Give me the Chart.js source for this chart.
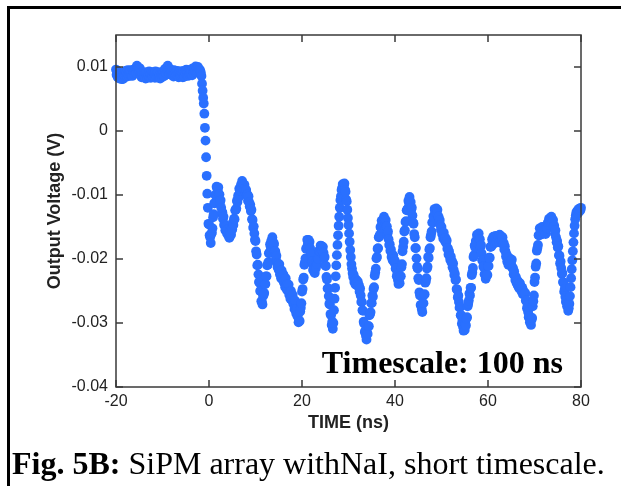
<!DOCTYPE html>
<html>
<head>
<meta charset="utf-8">
<script src="https://cdn.jsdelivr.net/npm/chart.js@4.4.1/dist/chart.umd.min.js"></script>
<style>
  html, body { margin: 0; padding: 0; background: #fff; }
  #wrap { width: 621px; height: 486px; }
</style>
</head>
<body>
<div id="wrap"><canvas id="sipmChart" width="621" height="486"></canvas></div>
<script>
// ============================================================================
// SiPM ARRAY + NaI OUTPUT PULSE, SHORT TIMESCALE
// ============================================================================

// scope sampling grid (ns)
const SAMPLE_START_NS = -20;
const SAMPLE_STEP_NS = 0.125;

// output voltage in mV, one row per ns (8 samples each)
const outputMilliVolts = [
  9.6, 8.8, 9.2, 8.4, 9.3, 8.6, 8.2, 8.8,             // -20
  8.2, 8.9, 8.1, 8.6, 8.1, 9.1, 8.8, 8.6,             // -19
  9.4, 8.7, 9.2, 8.5, 9.5, 8.9, 8.6, 9.3,             // -18
  8.8, 9.5, 8.7, 9.2, 8.6, 9.5, 9.2, 8.9,             // -17
  9.7, 9.1, 9.7, 9.1, 10.2, 9.7, 9.3, 9.9,            // -16
  9.3, 9.8, 8.8, 9.1, 8.4, 9.2, 8.8, 8.4,             // -15
  9.1, 8.4, 8.9, 8.2, 9.2, 8.6, 8.3, 9.0,             // -14
  8.6, 9.3, 8.4, 8.9, 8.3, 9.2, 8.8, 8.5,             // -13
  9.2, 8.5, 9.0, 8.3, 9.3, 8.7, 8.4, 9.1,             // -12
  8.5, 9.2, 8.3, 8.8, 8.2, 9.1, 8.7, 8.4,             // -11
  9.2, 8.6, 9.2, 8.6, 9.7, 9.2, 9.0, 9.8,             // -10
  9.5, 10.2, 9.2, 9.6, 8.9, 9.7, 9.2, 8.8,            // -9
  9.4, 8.7, 9.2, 8.5, 9.5, 8.9, 8.6, 9.3,             // -8
  8.7, 9.4, 8.5, 9.0, 8.4, 9.3, 8.9, 8.6,             // -7
  9.3, 8.6, 9.1, 8.4, 9.4, 8.8, 8.5, 9.2,             // -6
  8.9, 9.6, 8.7, 9.2, 8.6, 9.5, 9.1, 8.8,             // -5
  9.5, 8.8, 9.4, 8.7, 9.8, 9.2, 9.0, 9.7,             // -4
  9.3, 10.1, 9.2, 9.8, 9.2, 10.0, 9.5, 9.2,           // -3
  9.6, 9.4, 9.1, 8.6, 7.4, 6.3, 5.2, 4.3,             // -2
  2.7, 0.5, -1.5, -4.1, -7.0, -9.8, -12.0, -14.5,     // -1
  -14.6, -16.3, -16.6, -17.5, -16.1, -15.9, -15.2, -13.5, // 0
  -13.0, -11.3, -11.3, -10.0, -10.0, -8.7, -8.9, -9.3,    // 1
  -8.8, -9.9, -9.9, -11.2, -10.8, -12.0, -12.9, -12.7,    // 2
  -13.7, -13.4, -14.7, -14.6, -15.5, -14.9, -15.5, -16.0, // 3
  -15.4, -16.3, -15.9, -16.7, -15.6, -16.1, -16.2, -15.2, // 4
  -15.4, -14.3, -14.7, -13.7, -13.8, -12.4, -12.3, -12.1, // 5
  -10.9, -11.1, -10.1, -10.4, -9.0, -9.3, -9.3, -8.4,     // 6
  -8.7, -7.8, -8.7, -8.3, -9.1, -8.4, -9.0, -9.6,         // 7
  -9.2, -10.1, -9.9, -10.9, -10.2, -11.1, -11.8, -11.5,   // 8
  -12.5, -12.3, -13.8, -13.9, -15.1, -14.9, -16.0, -17.0, // 9
  -17.2, -18.8, -19.3, -21.0, -20.9, -22.4, -23.6, -23.7, // 10
  -25.0, -25.0, -26.6, -26.7, -27.1, -25.8, -25.6, -25.3, // 11
  -23.9, -23.9, -22.7, -22.7, -21.0, -20.9, -20.5, -19.1, // 12
  -19.0, -17.7, -18.1, -17.2, -17.6, -16.6, -17.3, -17.9, // 13
  -17.6, -18.8, -18.8, -20.0, -19.5, -20.6, -21.3, -21.0, // 14
  -21.7, -20.8, -22.4, -21.8, -23.0, -21.8, -22.6, -23.3, // 15
  -22.4, -23.7, -23.1, -24.4, -23.0, -24.2, -24.8, -23.9, // 16
  -24.9, -24.0, -25.6, -25.0, -26.2, -25.0, -25.8, -26.5, // 17
  -25.6, -27.0, -26.4, -27.8, -26.5, -27.8, -28.5, -27.8, // 18
  -28.9, -28.7, -29.9, -29.7, -29.7, -28.2, -27.6, -26.9, // 19
  -25.1, -24.7, -23.2, -22.9, -20.9, -20.5, -19.9, -18.4, // 20
  -18.3, -17.0, -17.7, -17.0, -17.9, -17.3, -18.3, -19.2, // 21
  -19.1, -20.4, -20.4, -21.7, -21.0, -22.0, -22.2, -21.3, // 22
  -21.4, -20.4, -20.8, -19.8, -20.0, -18.7, -18.8, -18.8, // 23
  -17.9, -18.5, -18.0, -18.8, -18.1, -19.0, -19.8, -19.7, // 24
  -21.0, -21.1, -22.8, -23.2, -24.6, -24.6, -25.8, -27.0, // 25
  -27.1, -28.6, -28.8, -30.3, -29.8, -30.9, -30.0, -28.0, // 26
  -26.2, -24.5, -22.7, -21.0, -19.4, -17.8, -16.3, -14.8, // 27
  -13.4, -12.0, -10.8, -10.2, -9.2, -8.9, -8.3, -8.4,     // 28
  -8.5, -8.2, -9.2, -9.5, -10.7, -11.0, -12.3, -13.6,     // 29
  -14.7, -16.0, -17.3, -18.6, -19.7, -20.8, -21.5, -22.2, // 30
  -22.8, -22.5, -23.6, -23.3, -24.0, -23.2, -23.7, -24.1, // 31
  -23.5, -24.3, -24.1, -25.1, -24.6, -25.7, -26.7, -26.7, // 32
  -28.0, -28.1, -29.8, -30.1, -31.4, -31.2, -32.0, -32.6, // 33
  -31.5, -31.7, -30.5, -30.5, -28.8, -28.6, -28.3, -26.9, // 34
  -26.9, -25.7, -25.9, -24.7, -24.4, -22.6, -22.1, -21.5, // 35
  -19.9, -19.7, -18.4, -18.3, -16.6, -16.5, -16.2, -15.0, // 36
  -15.1, -14.0, -14.6, -13.9, -14.4, -13.4, -13.9, -14.3, // 37
  -13.9, -14.9, -14.9, -16.1, -15.7, -16.9, -17.8, -17.7, // 38
  -18.7, -18.5, -19.7, -19.5, -20.2, -19.4, -20.0, -20.6, // 39
  -20.3, -21.5, -21.5, -22.7, -22.2, -23.3, -23.9, -23.6, // 40
  -23.8, -22.7, -22.7, -21.3, -20.8, -18.8, -18.1, -17.3, // 41
  -15.7, -15.5, -14.2, -14.1, -12.4, -12.3, -12.1, -10.9, // 42
  -11.2, -10.3, -11.4, -11.1, -12.3, -12.0, -13.2, -14.3, // 43
  -14.5, -16.1, -16.6, -18.3, -18.3, -19.9, -21.2, -21.5, // 44
  -23.0, -23.3, -25.2, -25.7, -27.2, -27.2, -27.8, -28.3, // 45
  -26.9, -26.9, -25.6, -25.5, -23.7, -23.5, -23.0, -21.5, // 46
  -21.2, -19.7, -19.8, -18.5, -18.3, -16.6, -16.2, -15.7, // 47
  -14.3, -14.3, -13.3, -13.5, -12.2, -12.6, -12.8, -12.1, // 48
  -12.8, -12.3, -13.5, -13.4, -14.4, -13.9, -14.7, -15.4, // 49
  -15.0, -16.1, -15.8, -16.8, -15.9, -16.7, -17.2, -16.7, // 50
  -17.5, -17.1, -18.4, -18.3, -19.3, -18.8, -19.5, -20.1, // 51
  -19.6, -20.5, -20.3, -21.3, -20.7, -21.7, -22.5, -22.3, // 52
  -23.3, -23.2, -24.7, -24.8, -26.0, -25.7, -26.7, -27.6, // 53
  -27.5, -28.8, -28.8, -30.1, -29.5, -30.6, -31.2, -30.8, // 54
  -31.1, -30.1, -30.4, -29.3, -29.1, -27.4, -27.0, -26.5, // 55
  -25.4, -25.7, -24.5, -24.5, -22.5, -22.1, -21.4, -19.7, // 56
  -19.4, -17.9, -18.2, -17.2, -17.4, -16.2, -16.4, -16.6, // 57
  -16.0, -16.9, -16.9, -18.1, -17.8, -19.1, -20.2, -20.2, // 58
  -21.2, -21.1, -22.4, -22.3, -23.1, -22.4, -22.5, -22.5, // 59
  -21.1, -21.1, -19.8, -19.8, -18.1, -18.1, -18.0, -16.9, // 60
  -17.3, -16.5, -17.5, -17.2, -17.5, -16.4, -16.9, -17.4, // 61
  -16.4, -16.9, -16.5, -17.4, -16.2, -16.6, -17.0, -16.5, // 62
  -17.2, -16.6, -17.7, -17.5, -18.5, -18.0, -18.8, -19.6, // 63
  -19.3, -20.4, -20.0, -20.9, -19.8, -20.3, -20.9, -20.5, // 64
  -20.9, -20.1, -21.4, -21.4, -22.4, -21.9, -22.6, -23.3, // 65
  -22.8, -23.7, -23.3, -24.1, -23.5, -24.4, -24.6, -23.8, // 66
  -24.6, -24.3, -25.1, -24.5, -25.5, -25.0, -25.3, -25.5, // 67
  -25.3, -26.5, -26.5, -27.7, -27.2, -28.3, -29.1, -28.9, // 68
  -29.9, -29.7, -30.3, -29.5, -29.2, -27.4, -26.6, -25.7, // 69
  -23.6, -22.9, -21.2, -20.7, -18.7, -18.3, -17.8, -16.3, // 70
  -16.3, -15.2, -16.2, -15.8, -16.1, -15.0, -15.5, -16.0, // 71
  -15.1, -15.6, -15.2, -16.1, -14.8, -15.2, -15.2, -14.3, // 72
  -14.6, -13.7, -14.5, -13.9, -14.4, -13.4, -13.9, -14.3, // 73
  -13.9, -14.9, -14.8, -16.0, -15.5, -16.6, -17.4, -17.2, // 74
  -18.2, -18.0, -19.4, -19.5, -20.7, -20.4, -21.4, -22.3, // 75
  -22.2, -23.6, -23.7, -25.1, -24.7, -25.9, -26.7, -26.5, // 76
  -27.4, -27.0, -28.1, -27.7, -27.0, -25.8, -24.4, -23.0, // 77
  -21.6, -20.2, -18.8, -17.4, -16.0, -14.8, -13.8, -13.2, // 78
  -12.7, -13.0, -12.4, -12.8, -12.2, -12.6, -12.1, -12.4, // 79
  -12.0                                                    // 80
];

const timeTicksNs = [-20, 0, 20, 40, 60, 80];
const voltageTicks = [-0.04, -0.03, -0.02, -0.01, 0, 0.01];
const voltageTickLabels = ['-0.04', '-0.03', '-0.02', '-0.01', '0', '0.01'];

const annotationText = 'Timescale: 100 ns';
const captionBold = 'Fig. 5B:';
const captionRest = ' SiPM array withNaI, short timescale.';

const traceColor = '#2a70ff';
const axisColor = '#3a3a3a';
const labelColor = '#222';
const sansFont = 'Arial, "Liberation Sans", sans-serif';
const serifFont = '"Times New Roman", "Liberation Serif", serif';

// mV -> V, paired with sample times
const tracePoints = outputMilliVolts.map((mv, i) => ({
  x: SAMPLE_START_NS + i * SAMPLE_STEP_NS,
  y: mv / 1000
}));

/**
 * Frame, MATLAB-style boxed axes with inward ticks, annotation and caption
 */
const figureDecor = {
  id: 'figureDecor',
  beforeDraw(chart) {
    const ctx = chart.ctx;
    ctx.save();
    ctx.fillStyle = '#fff';
    ctx.fillRect(0, 0, chart.width, chart.height);
    // outer text-box frame (left + top edges visible)
    ctx.fillStyle = '#000';
    ctx.fillRect(7, 6, 3, chart.height - 6);
    ctx.fillRect(7, 6, chart.width - 7, 3);
    ctx.restore();
  },
  afterDatasetsDraw(chart) {
    const { ctx, chartArea: a, scales: { x, y } } = chart;
    const tickLen = 7;
    ctx.save();
    ctx.strokeStyle = axisColor;
    ctx.lineWidth = 1.5;
    ctx.strokeRect(a.left, a.top, a.right - a.left, a.bottom - a.top);

    ctx.beginPath();
    timeTicksNs.forEach(t => {
      const px = x.getPixelForValue(t);
      ctx.moveTo(px, a.bottom);
      ctx.lineTo(px, a.bottom - tickLen);
      ctx.moveTo(px, a.top);
      ctx.lineTo(px, a.top + tickLen);
    });
    voltageTicks.forEach(v => {
      const py = y.getPixelForValue(v);
      ctx.moveTo(a.left, py);
      ctx.lineTo(a.left + tickLen, py);
      ctx.moveTo(a.right, py);
      ctx.lineTo(a.right - tickLen, py);
    });
    ctx.stroke();

    // annotation inside the axes
    ctx.fillStyle = '#000';
    ctx.textBaseline = 'alphabetic';
    ctx.textAlign = 'right';
    ctx.font = 'bold 32px ' + serifFont;
    ctx.fillText(annotationText, a.right - 18, a.bottom - 14);

    // figure caption
    ctx.textAlign = 'left';
    ctx.font = 'bold 32px ' + serifFont;
    ctx.fillText(captionBold, 12, 474);
    const boldWidth = ctx.measureText(captionBold).width;
    ctx.font = '32px ' + serifFont;
    ctx.fillText(captionRest, 12 + boldWidth, 474);
    ctx.restore();
  }
};

const ctx = document.getElementById('sipmChart').getContext('2d');

new Chart(ctx, {
  type: 'scatter',
  data: {
    datasets: [{
      label: 'Output Voltage',
      data: tracePoints,
      pointRadius: 4.9,
      pointHoverRadius: 4.9,
      pointBorderWidth: 0,
      backgroundColor: traceColor,
      borderColor: traceColor,
      showLine: false,
      clip: false
    }]
  },
  options: {
    responsive: false,
    devicePixelRatio: 1,
    animation: false,
    events: [],
    layout: {
      padding: { left: 0, right: 40, top: 35, bottom: 0 }
    },
    plugins: {
      legend: { display: false },
      tooltip: { enabled: false }
    },
    scales: {
      x: {
        type: 'linear',
        min: -20,
        max: 80,
        afterBuildTicks: scale => {
          scale.ticks = timeTicksNs.map(v => ({ value: v }));
        },
        afterFit: scale => { scale.height = 99; },
        grid: { display: false, drawTicks: false },
        border: { display: false },
        ticks: {
          padding: 5,
          maxRotation: 0,
          autoSkip: false,
          color: labelColor,
          font: { family: sansFont, size: 16 }
        },
        title: {
          display: true,
          text: 'TIME (ns)',
          color: labelColor,
          font: { family: sansFont, size: 18, weight: 'bold' },
          padding: { top: 0, bottom: 52 }
        }
      },
      y: {
        type: 'linear',
        min: -0.04,
        max: 0.015,
        afterBuildTicks: scale => {
          scale.ticks = voltageTicks.map(v => ({ value: v }));
        },
        afterFit: scale => { scale.width = 116; },
        grid: { display: false, drawTicks: false },
        border: { display: false },
        ticks: {
          padding: 8,
          autoSkip: false,
          color: labelColor,
          font: { family: sansFont, size: 16 },
          callback: value => voltageTickLabels[voltageTicks.indexOf(value)]
        },
        title: {
          display: true,
          text: 'Output Voltage (V)',
          color: labelColor,
          font: { family: sansFont, size: 18, weight: 'bold' },
          padding: { top: 44, bottom: 0 }
        }
      }
    }
  },
  plugins: [figureDecor]
});
</script>
</body>
</html>
